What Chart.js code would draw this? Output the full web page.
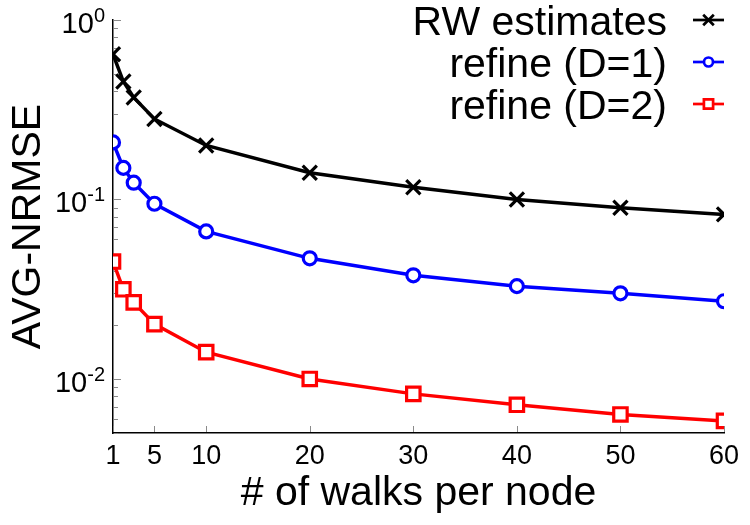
<!DOCTYPE html>
<html><head><meta charset="utf-8">
<script src="https://cdn.jsdelivr.net/npm/chart.js@4/dist/chart.umd.min.js"></script>
<style>html,body{margin:0;padding:0;background:#fff}#wrap{width:750px;height:525px}</style>
</head><body><div id="wrap"><canvas id="c" width="750" height="525"></canvas></div>
<script>
const walks = [1, 2, 3, 5, 10, 20, 30, 40, 50, 60];
const rwEstimates = [0.645, 0.454, 0.370, 0.281, 0.200, 0.141, 0.117, 0.100, 0.090, 0.0826];
const refineD1 = [0.208, 0.150, 0.124, 0.0947, 0.0664, 0.047, 0.0378, 0.0329, 0.030, 0.0271];
const refineD2 = [0.0451, 0.0316, 0.0267, 0.0202, 0.0141, 0.0100, 0.00826, 0.00718, 0.00634, 0.00584];
const seriesNames = ['RW estimates', 'refine (D=1)', 'refine (D=2)'];
const xTickValues = [1, 5, 10, 20, 30, 40, 50, 60];
const yTickValues = [0.01, 0.1, 1];
const xTitle = '# of walks per node';
const yTitle = 'AVG-NRMSE';

const FONT = '"Liberation Sans", Arial, Helvetica, sans-serif';
const colors = ['#000000', '#0000ff', '#ff0000'];
const styles = ['crossRot', 'circle', 'rect'];

function drawMarker(ctx, style, x, y, r, color, lw) {
  ctx.save();
  ctx.strokeStyle = color; ctx.lineWidth = lw; ctx.fillStyle = '#fff';
  ctx.beginPath();
  if (style === 'crossRot') {
    const d = r * Math.SQRT1_2;
    ctx.moveTo(x - d, y - d); ctx.lineTo(x + d, y + d);
    ctx.moveTo(x - d, y + d); ctx.lineTo(x + d, y - d);
    ctx.stroke();
  } else if (style === 'circle') {
    ctx.arc(x, y, r, 0, Math.PI * 2); ctx.fill(); ctx.stroke();
  } else {
    const s = r * Math.SQRT1_2;
    ctx.rect(x - s, y - s, 2 * s, 2 * s); ctx.fill(); ctx.stroke();
  }
  ctx.restore();
}

const decor = {
  id: 'decor',
  beforeDatasetsDraw(chart) {
    const ctx = chart.ctx, ca = chart.chartArea;
    const xs = chart.scales.x, ys = chart.scales.y;
    ctx.save();
    ctx.strokeStyle = '#8a8a8a'; ctx.lineWidth = 1;
    xTickValues.forEach(v => {
      const px = Math.round(xs.getPixelForValue(v)) + 0.5;
      ctx.beginPath(); ctx.moveTo(px, ca.bottom - 1); ctx.lineTo(px, ca.bottom - 7); ctx.stroke();
    });
    const lo = Math.floor(Math.log10(ys.min)), hi = Math.ceil(Math.log10(ys.max));
    for (let e = lo; e <= hi; e++) {
      for (let m = 1; m <= 9; m++) {
        const v = m * Math.pow(10, e);
        if (v < ys.min * 0.999 || v > ys.max * 1.001) continue;
        const py = Math.round(ys.getPixelForValue(v)) + 0.5;
        const len = m === 1 ? 7 : 4;
        ctx.beginPath(); ctx.moveTo(ca.left + 1, py); ctx.lineTo(ca.left + 1 + len, py); ctx.stroke();
      }
    }
    ctx.restore();
  },
  afterDraw(chart) {
    const ctx = chart.ctx;
    const ys = chart.scales.y;
    ctx.save();
    ctx.fillStyle = '#000';
    ctx.textBaseline = 'alphabetic';
    ctx.textAlign = 'right';
    const rightX = 105;
    ys.ticks.forEach(t => {
      const py = ys.getPixelForValue(t.value);
      const exp = String(Math.round(Math.log10(t.value)));
      ctx.font = '20px ' + FONT;
      const ew = ctx.measureText(exp).width;
      ctx.fillText(exp, rightX, py + 2);
      ctx.font = '29px ' + FONT;
      ctx.fillText('10', rightX - ew, py + 13);
    });
    // legend
    const rows = [20, 62, 104];
    ctx.font = '41px ' + FONT;
    seriesNames.forEach((name, i) => {
      const y = rows[i];
      ctx.fillStyle = '#000';
      ctx.textAlign = 'right';
      ctx.fillText(name, 667, y + 15);
      ctx.strokeStyle = colors[i]; ctx.lineWidth = 2.7;
      ctx.beginPath(); ctx.moveTo(693, y); ctx.lineTo(724, y); ctx.stroke();
      if (i === 0) drawMarker(ctx, 'crossRot', 708.5, y, 7.5, colors[i], 2.7);
      else if (i === 1) drawMarker(ctx, 'circle', 708.5, y, 4.5, colors[i], 2.7);
      else drawMarker(ctx, 'rect', 708.5, y, 6.5, colors[i], 2.7);
    });
    ctx.restore();
  }
};

function ds(i, vals, radius) {
  return {
    label: seriesNames[i],
    data: walks.map((x, k) => ({ x: x, y: vals[k] })),
    borderColor: colors[i], borderWidth: 3.5,
    pointStyle: styles[i], pointRadius: radius, pointHoverRadius: radius,
    pointBorderWidth: 3.2, pointBorderColor: colors[i], pointBackgroundColor: '#fff',
    tension: 0, fill: false
  };
}

new Chart(document.getElementById('c'), {
  type: 'line',
  data: { datasets: [ds(0, rwEstimates, 10), ds(1, refineD1, 6.5), ds(2, refineD2, 9.5)] },
  options: {
    responsive: false, animation: false, devicePixelRatio: 1,
    layout: { padding: { top: 20, right: 26, left: 0, bottom: 0 } },
    plugins: { legend: { display: false }, tooltip: { enabled: false } },
    scales: {
      x: {
        type: 'linear', min: 1, max: 60,
        afterBuildTicks: s => { s.ticks = xTickValues.map(v => ({ value: v })); },
        afterFit: s => { s.height = 92; },
        grid: { display: false, drawTicks: false },
        border: { display: true, color: '#000', width: 1.5 },
        ticks: { font: { family: FONT, size: 27 }, color: '#000', padding: 7, maxRotation: 0, autoSkip: false },
        title: { display: true, text: xTitle, font: { family: FONT, size: 41 }, color: '#000', padding: { top: 0, bottom: 7 } }
      },
      y: {
        type: 'logarithmic', min: 0.005, max: 1,
        afterBuildTicks: s => { s.ticks = yTickValues.map(v => ({ value: v })); },
        afterFit: s => { s.width = 113; },
        grid: { display: false, drawTicks: false },
        border: { display: true, color: '#000', width: 1.5 },
        ticks: { display: false },
        title: { display: true, text: yTitle, font: { family: FONT, size: 41 }, color: '#000', padding: { top: 4, bottom: 0 } }
      }
    }
  },
  plugins: [decor]
});
</script></body></html>
